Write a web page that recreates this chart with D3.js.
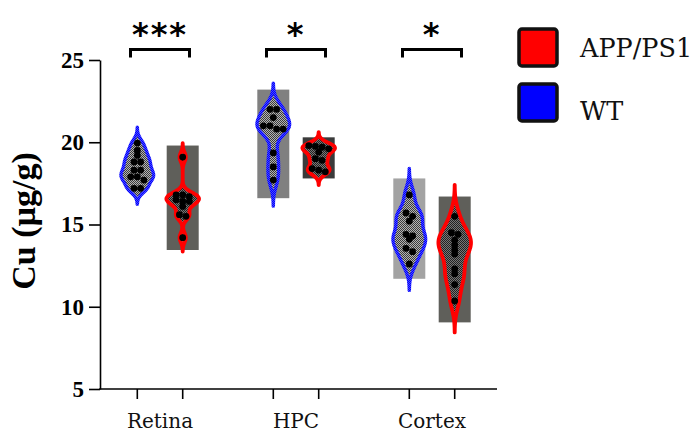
<!DOCTYPE html>
<html>
<head>
<meta charset="utf-8">
<script src="https://cdn.jsdelivr.net/npm/d3@7"></script>
<style>
  html, body { margin: 0; padding: 0; background: #fff; }
  svg { display: block; }
</style>
</head>
<body>
<svg id="chart" width="691" height="434"></svg>
<script>
// ---- data -------------------------------------------------------------
const categories = ["Retina", "HPC", "Cortex"];
const groups = ["WT", "APP/PS1"];
const legendOrder = ["APP/PS1", "WT"];
const yTicks = [5, 10, 15, 20, 25];
const significance = ["***", "*", "*"];

// Cu content (µg/g) per animal, one array per region
const wtValues = [
  [19.95, 19.5, 19.2, 18.8, 18.8, 18.3, 18.3, 17.9, 17.9, 17.7, 17.2, 17.2],
  [22.0, 22.0, 21.5, 21.0, 21.0, 20.8, 20.8, 19.35, 18.5, 17.7],
  [16.8, 15.7, 15.5, 15.2, 14.4, 14.3, 14.1, 13.55, 13.35, 12.6]
];
const appValues = [
  [19.1, 16.8, 16.8, 16.7, 16.5, 16.4, 16.4, 16.1, 15.6, 15.5, 14.2],
  [19.8, 19.75, 19.7, 19.6, 19.4, 19.0, 18.9, 18.4, 18.3, 18.2],
  [15.5, 14.5, 14.4, 14.05, 13.75, 13.45, 13.2, 12.3, 12.0, 11.35, 10.35]
];
// floating range bars [low, high]
const wtRanges = [null, [16.6, 23.2], [11.7, 17.8]];
const appRanges = [[13.45, 19.8], [17.8, 20.3], [9.05, 16.7]];

// ---- styles -----------------------------------------------------------
const rangeFill = {
  "WT": [null, "#808080", "#a3a3a3"],
  "APP/PS1": ["#5f5f5a", "#3b3b3b", "#5f5f5a"]
};
const groupColor = { "WT": "#0000ff", "APP/PS1": "#ff0000" };

// ---- layout -----------------------------------------------------------
const svg = d3.select("#chart");
const axisLeftX = 100, axisBottomY = 389, axisRightX = 497;

const y = d3.scaleLinear().domain([5, 25]).range([axisBottomY, 60]);
const xCat = d3.scaleBand().domain(categories).range([92, 500]);
const xGroup = d3.scalePoint().domain(groups).range([-22.7, 22.7]);
const cx = (cat, g) => xCat(cat) + xCat.bandwidth() / 2 + xGroup(g);

// dithered fills / strokes
const defs = svg.append("defs");
function dither(id, base, speck) {
  const p = defs.append("pattern").attr("id", id)
    .attr("patternUnits", "userSpaceOnUse").attr("width", 2).attr("height", 2);
  p.append("rect").attr("width", 2).attr("height", 2).attr("fill", base);
  p.append("rect").attr("x", 0).attr("y", 0).attr("width", 1).attr("height", 1).attr("fill", speck);
  p.append("rect").attr("x", 1).attr("y", 1).attr("width", 1).attr("height", 1).attr("fill", speck);
}
dither("fillWT", "#b4b4b4", "#3c3c3c");
dither("fillAPP", "#777777", "#222222");
dither("strokeWT", "#0000ff", "#4848ff");
const violinFill = { "WT": "url(#fillWT)", "APP/PS1": "url(#fillAPP)" };
const violinStroke = { "WT": "url(#strokeWT)", "APP/PS1": "#ff0000" };

// ---- range bars -------------------------------------------------------
const rangeRows = [];
categories.forEach((cat, i) => {
  [["WT", wtRanges[i]], ["APP/PS1", appRanges[i]]].forEach(([g, r]) => {
    if (r) rangeRows.push({ cat, g, lo: r[0], hi: r[1], fill: rangeFill[g][i] });
  });
});
svg.append("g").selectAll("rect").data(rangeRows).join("rect")
  .attr("x", d => cx(d.cat, d.g) - 16)
  .attr("width", 32)
  .attr("y", d => y(d.hi))
  .attr("height", d => y(d.lo) - y(d.hi))
  .attr("fill", d => d.fill);

// ---- violins (gaussian KDE) -------------------------------------------
function bandwidth(vals) {
  const s = vals.slice().sort(d3.ascending);
  const sd = d3.deviation(s);
  const iqr = d3.quantile(s, 0.75) - d3.quantile(s, 0.25);
  const spread = Math.min(sd, iqr > 0 ? iqr / 1.34 : sd);
  return 0.675 * spread * Math.pow(s.length, -0.2);
}
function violinPoints(vals) {
  const h = bandwidth(vals);
  const lo = d3.min(vals) - 3 * h, hi = d3.max(vals) + 3 * h;
  const k = 1 / (vals.length * h * Math.sqrt(2 * Math.PI));
  const pts = d3.range(0, 121).map(i => {
    const v = lo + (hi - lo) * i / 120;
    const dens = k * d3.sum(vals, xi => Math.exp(-0.5 * ((v - xi) / h) ** 2));
    return { v, dens };
  });
  const maxD = d3.max(pts, p => p.dens);
  pts.forEach(p => { p.w = 16.3 * p.dens / maxD; });
  return pts;
}
const violinRows = [];
categories.forEach((cat, i) => {
  violinRows.push({ cat, g: "WT", vals: wtValues[i] });
  violinRows.push({ cat, g: "APP/PS1", vals: appValues[i] });
});

const vg = svg.append("g");
violinRows.forEach(row => {
  const c = cx(row.cat, row.g);
  const area = d3.area()
    .curve(d3.curveCatmullRom)
    .y(p => y(p.v))
    .x0(p => c - p.w)
    .x1(p => c + p.w);
  vg.append("path")
    .datum(violinPoints(row.vals))
    .attr("d", area)
    .attr("fill", violinFill[row.g])
    .attr("stroke", violinStroke[row.g])
    .attr("stroke-width", row.g === "WT" ? 3.4 : 3.8)
    .attr("stroke-linejoin", "round");
});

// ---- dots (rows of coincident values spread sideways) -----------------
const dotRows = [];
violinRows.forEach(row => {
  const c = cx(row.cat, row.g);
  const sorted = row.vals.map(v => ({ v, py: y(v) })).sort((a, b) => a.py - b.py);
  let cluster = [];
  const flush = () => {
    cluster.forEach((p, j) => {
      dotRows.push({ x: c + (j - (cluster.length - 1) / 2) * 6.6, y: p.py });
    });
    cluster = [];
  };
  sorted.forEach(p => {
    if (cluster.length && p.py - cluster[0].py > 3.5) flush();
    cluster.push(p);
  });
  flush();
});
svg.append("g").selectAll("circle").data(dotRows).join("circle")
  .attr("cx", d => d.x).attr("cy", d => d.y).attr("r", 3.4).attr("fill", "#000");

// ---- axes -------------------------------------------------------------
const yAxis = svg.append("g")
  .attr("transform", `translate(${axisLeftX},0)`)
  .call(d3.axisLeft(y).tickValues(yTicks).tickSize(11).tickPadding(5).tickSizeOuter(0));
yAxis.select(".domain").attr("stroke", "#000").attr("stroke-width", 1.6);
yAxis.selectAll(".tick line").attr("stroke", "#000").attr("stroke-width", 1.6);
yAxis.selectAll(".tick text")
  .attr("fill", "#000")
  .style("font-family", "'Liberation Serif', 'Times New Roman', serif")
  .style("font-weight", "bold")
  .style("font-size", "23px");

svg.append("line")
  .attr("x1", axisLeftX - 0.8).attr("x2", axisRightX)
  .attr("y1", axisBottomY).attr("y2", axisBottomY)
  .attr("stroke", "#000").attr("stroke-width", 1.6);

const tickRows = [];
categories.forEach(cat => groups.forEach(g => tickRows.push(cx(cat, g))));
svg.append("g").selectAll("line").data(tickRows).join("line")
  .attr("x1", d => d).attr("x2", d => d)
  .attr("y1", axisBottomY).attr("y2", axisBottomY + 10)
  .attr("stroke", "#000").attr("stroke-width", 1.6);

svg.append("g").selectAll("text").data(categories).join("text")
  .attr("x", d => xCat(d) + xCat.bandwidth() / 2)
  .attr("y", 428)
  .attr("text-anchor", "middle")
  .style("font-family", "'DejaVu Serif', serif")
  .style("font-size", "20px")
  .attr("fill", "#111")
  .text(d => d);

svg.append("text")
  .attr("transform", "translate(35,221) rotate(-90)")
  .attr("text-anchor", "middle")
  .style("font-family", "'Liberation Serif', 'Times New Roman', serif")
  .style("font-weight", "bold")
  .style("font-size", "34px")
  .attr("fill", "#000")
  .text("Cu (µg/g)");

// ---- significance brackets --------------------------------------------
const sig = svg.append("g");
categories.forEach((cat, i) => {
  const mid = xCat(cat) + xCat.bandwidth() / 2;
  sig.append("path")
    .attr("d", `M${mid - 29.5},57.5 V49.5 H${mid + 29.5} V57.5`)
    .attr("fill", "none").attr("stroke", "#000").attr("stroke-width", 3);
  sig.append("text")
    .attr("x", mid).attr("y", 45)
    .attr("text-anchor", "middle")
    .style("font-family", "'DejaVu Sans', sans-serif")
    .style("font-weight", "bold")
    .style("font-size", "32px")
    .style("letter-spacing", "2px")
    .attr("fill", "#000")
    .text(significance[i]);
});

// ---- legend -----------------------------------------------------------
const legend = svg.append("g");
legendOrder.forEach((g, i) => {
  const top = 29 + i * 55;
  legend.append("rect")
    .attr("x", 519).attr("y", top).attr("width", 38).attr("height", 37)
    .attr("rx", 3)
    .attr("fill", groupColor[g]).attr("stroke", "#111").attr("stroke-width", 3.5);
  legend.append("text")
    .attr("x", 580).attr("y", top + 28 + i * 8)
    .style("font-family", "'DejaVu Serif', serif")
    .style("font-size", "25.5px")
    .attr("fill", "#111")
    .text(g);
});
</script>
</body>
</html>
